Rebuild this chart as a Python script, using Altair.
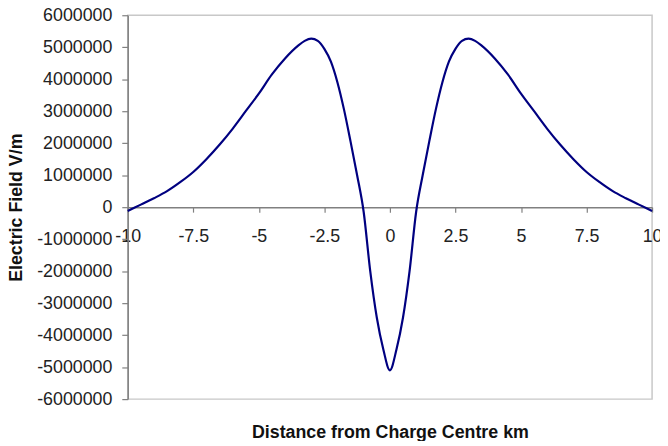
import altair as alt
import pandas as pd

# distance from charge centre (km) and electric field (V/m)
dist = [-10, -9.5, -9, -8.5, -8, -7.5, -7, -6.5, -6, -5.5, -5, -4.5, -4, -3.5, -3.25, -3, -2.75, -2.5,
        -2.25, -2, -1.75, -1.5, -1.25, -1, -0.75, -0.5, -0.25, 0,
        0.25, 0.5, 0.75, 1, 1.25, 1.5, 1.75, 2, 2.25, 2.5, 2.75, 3, 3.25, 3.5, 4, 4.5, 5,
        5.5, 6, 6.5, 7, 7.5, 8, 8.5, 9, 9.5, 10]
field = [-120000, 80000, 280000, 500000, 780000, 1100000, 1500000, 1950000, 2450000, 3000000, 3550000,
         4150000, 4650000, 5050000, 5200000, 5270000, 5200000, 4950000,
         4550000, 3900000, 3050000, 2050000, 1000000, -150000, -2000000, -3450000, -4450000, -5100000,
         -4450000, -3450000, -2000000, -150000, 1000000, 2050000, 3050000, 3900000, 4550000, 4950000,
         5200000, 5270000, 5200000, 5050000, 4650000, 4150000, 3550000,
         3000000, 2450000, 1950000, 1500000, 1100000, 780000, 500000, 280000, 80000, -120000]

x_ticks = [-10, -7.5, -5, -2.5, 0, 2.5, 5, 7.5, 10]
y_ticks = [-6000000, -5000000, -4000000, -3000000, -2000000, -1000000, 0,
           1000000, 2000000, 3000000, 4000000, 5000000, 6000000]

df = pd.DataFrame({"x": dist, "y": field})

FONT = "Liberation Sans"

chart = alt.Chart(df).mark_line(color="#000080", strokeWidth=2.2, interpolate="monotone").encode(
    x=alt.X("x:Q",
            scale=alt.Scale(domain=[-10, 10], nice=False, zero=False),
            axis=alt.Axis(values=x_ticks, labelExpr="'' + datum.value", offset=-194, grid=False,
                          domainColor="#808080", domainWidth=1.5, tickColor="#808080",
                          tickSize=5, tickWidth=1.2, labelPadding=16, labelFontSize=18,
                          labelFont=FONT, labelColor="#222222", labelFlush=False,
                          labelOverlap=False,
                          title="Distance from Charge Centre km", titleY=228,
                          titleBaseline="middle", titleFont=FONT, titleFontSize=18,
                          titleFontWeight="bold", titleColor="#111111")),
    y=alt.Y("y:Q",
            scale=alt.Scale(domain=[-6000000, 6000000], nice=False),
            axis=alt.Axis(values=y_ticks, labelExpr="'' + datum.value", grid=False,
                          domainColor="#808080", domainWidth=1.5, tickColor="#808080",
                          tickSize=6, tickWidth=1.2, labelPadding=10, labelFontSize=18,
                          labelFont=FONT, labelColor="#222222", labelOverlap=False,
                          title="Electric Field V/m", titleX=-112, titleY=194,
                          titleAngle=270, titleBaseline="middle", titleAlign="center",
                          titleFont=FONT, titleFontSize=18, titleFontWeight="bold",
                          titleColor="#111111")),
).properties(
    width=530, height=388,
    autosize="none",
    padding={"left": 121, "top": 5, "right": 8, "bottom": 40},
).configure_view(stroke="#c8c8c8", strokeWidth=1.5)

chart.save("out.html", embed_options={"renderer": "svg", "actions": False})
